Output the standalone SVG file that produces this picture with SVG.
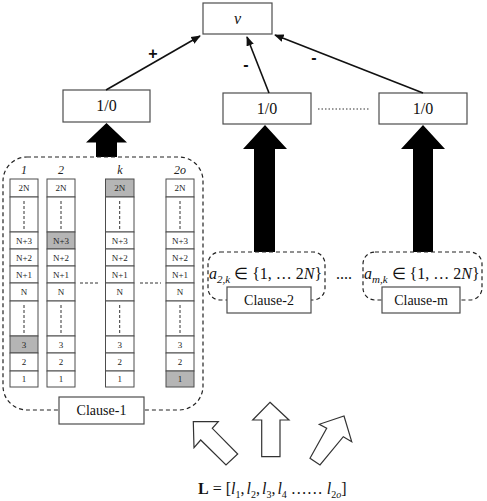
<svg xmlns="http://www.w3.org/2000/svg" width="487" height="501" viewBox="0 0 487 501">
<style>
.box{fill:#fff;stroke:#4d4d4d;stroke-width:1.2}
.dash{fill:none;stroke:#222;stroke-width:1.2;stroke-dasharray:4 3}
.cell{fill:#fff;stroke:#4d4d4d;stroke-width:1}
.sh{fill:#b5b5b5;stroke:#4d4d4d;stroke-width:1}
.ct{font-family:"Liberation Serif",serif;font-size:9px;text-anchor:middle;fill:#222}
.vd{stroke:#333;stroke-width:1;stroke-dasharray:3 2}
.m{font-family:"Liberation Serif",serif;font-size:16px;fill:#111}
.lab{font-family:"Liberation Serif",serif;font-size:14px;text-anchor:middle;fill:#111}
.sg{font-family:"Liberation Sans",sans-serif;font-size:16px;font-weight:bold;text-anchor:middle;fill:#111}
.hd{font-family:"Liberation Serif",serif;font-style:italic;font-size:12px;text-anchor:middle;fill:#222}
.ln{stroke:#111;stroke-width:1.6;fill:none}
.big{fill:#000}
.hol{fill:#fff;stroke:#333;stroke-width:1.2}
</style>
<defs>
<marker id="ah" viewBox="0 0 10 10" refX="9" refY="5" markerWidth="6" markerHeight="6" orient="auto">
<path d="M0,1 L10,5 L0,9 z" fill="#111"/>
</marker>
</defs>

<g id="node-v">
<rect class="box" x="203" y="3" width="69" height="31"/>
<text class="m" x="237.5" y="24" text-anchor="middle" font-style="italic">v</text>
</g>

<g id="node-out1">
<rect class="box" x="63" y="90" width="87" height="32"/>
<text class="m" x="106.5" y="111" text-anchor="middle">1/0</text>
</g>
<g id="node-out2">
<rect class="box" x="223" y="93" width="88" height="31"/>
<text class="m" x="267" y="114" text-anchor="middle">1/0</text>
</g>
<g id="node-outm">
<rect class="box" x="379" y="93" width="88" height="31"/>
<text class="m" x="423" y="114" text-anchor="middle">1/0</text>
</g>
<line x1="318" y1="109" x2="370" y2="109" stroke="#333" stroke-width="1.2" stroke-dasharray="1.5 2"/>

<g id="connectors">
<line class="ln" x1="106" y1="90" x2="200" y2="36" marker-end="url(#ah)"/>
<line class="ln" x1="269" y1="93" x2="247" y2="37" marker-end="url(#ah)"/>
<line class="ln" x1="423" y1="93" x2="275" y2="35" marker-end="url(#ah)"/>
<text class="sg" x="153" y="59">+</text>
<text class="sg" x="246" y="70">-</text>
<text class="sg" x="314" y="63">-</text>
<polygon class="big" points="106.5,123 127,142.5 117,142.5 117,157 96,157 96,142.5 86,142.5"/>
<polygon class="big" points="265,125 287,149 275,149 275,252 254,252 254,149 243,149"/>
<polygon class="big" points="423,125 445,149 433,149 433,252 413,252 413,149 401,149"/>
</g>

<g id="clause-1">
<rect class="dash" x="3" y="157" width="200" height="253" rx="24"/>
<text class="hd" x="24" y="174">1</text>
<text class="hd" x="61" y="174">2</text>
<text class="hd" x="120" y="174">k</text>
<text class="hd" x="180" y="174">2o</text>
<line class="vd" x1="80" y1="283" x2="100" y2="283"/>
<line class="vd" x1="140" y1="283" x2="161" y2="283"/>
<rect class="box" x="59" y="397" width="85" height="27"/>
<text class="lab" x="101.5" y="415">Clause-1</text>
</g>

<g id="col-1">
<rect class="cell" x="10" y="179" width="28" height="18"/><text class="ct" x="24" y="191">2N</text>
<rect class="cell" x="10" y="197" width="28" height="35"/><line class="vd" x1="24" y1="201" x2="24" y2="229"/>
<rect class="cell" x="10" y="232" width="28" height="17"/><text class="ct" x="24" y="243.5">N+3</text>
<rect class="cell" x="10" y="249" width="28" height="17"/><text class="ct" x="24" y="260.5">N+2</text>
<rect class="cell" x="10" y="266" width="28" height="17"/><text class="ct" x="24" y="277.5">N+1</text>
<rect class="cell" x="10" y="283" width="28" height="18"/><text class="ct" x="24" y="295">N</text>
<rect class="cell" x="10" y="301" width="28" height="35"/><line class="vd" x1="24" y1="305" x2="24" y2="333"/>
<rect class="sh" x="10" y="336" width="28" height="17"/><text class="ct" x="24" y="347.5">3</text>
<rect class="cell" x="10" y="353" width="28" height="18"/><text class="ct" x="24" y="365">2</text>
<rect class="cell" x="10" y="371" width="28" height="16"/><text class="ct" x="24" y="382">1</text>
</g>
<g id="col-2">
<rect class="cell" x="47" y="179" width="28" height="18"/><text class="ct" x="61" y="191">2N</text>
<rect class="cell" x="47" y="197" width="28" height="35"/><line class="vd" x1="61" y1="201" x2="61" y2="229"/>
<rect class="sh" x="47" y="232" width="28" height="17"/><text class="ct" x="61" y="243.5">N+3</text>
<rect class="cell" x="47" y="249" width="28" height="17"/><text class="ct" x="61" y="260.5">N+2</text>
<rect class="cell" x="47" y="266" width="28" height="17"/><text class="ct" x="61" y="277.5">N+1</text>
<rect class="cell" x="47" y="283" width="28" height="18"/><text class="ct" x="61" y="295">N</text>
<rect class="cell" x="47" y="301" width="28" height="35"/><line class="vd" x1="61" y1="305" x2="61" y2="333"/>
<rect class="cell" x="47" y="336" width="28" height="17"/><text class="ct" x="61" y="347.5">3</text>
<rect class="cell" x="47" y="353" width="28" height="18"/><text class="ct" x="61" y="365">2</text>
<rect class="cell" x="47" y="371" width="28" height="16"/><text class="ct" x="61" y="382">1</text>
</g>
<g id="col-k">
<rect class="sh" x="105.5" y="179" width="28.5" height="18"/><text class="ct" x="119.7" y="191">2N</text>
<rect class="cell" x="105.5" y="197" width="28.5" height="35"/><line class="vd" x1="119.7" y1="201" x2="119.7" y2="229"/>
<rect class="cell" x="105.5" y="232" width="28.5" height="17"/><text class="ct" x="119.7" y="243.5">N+3</text>
<rect class="cell" x="105.5" y="249" width="28.5" height="17"/><text class="ct" x="119.7" y="260.5">N+2</text>
<rect class="cell" x="105.5" y="266" width="28.5" height="17"/><text class="ct" x="119.7" y="277.5">N+1</text>
<rect class="cell" x="105.5" y="283" width="28.5" height="18"/><text class="ct" x="119.7" y="295">N</text>
<rect class="cell" x="105.5" y="301" width="28.5" height="35"/><line class="vd" x1="119.7" y1="305" x2="119.7" y2="333"/>
<rect class="cell" x="105.5" y="336" width="28.5" height="17"/><text class="ct" x="119.7" y="347.5">3</text>
<rect class="cell" x="105.5" y="353" width="28.5" height="18"/><text class="ct" x="119.7" y="365">2</text>
<rect class="cell" x="105.5" y="371" width="28.5" height="16"/><text class="ct" x="119.7" y="382">1</text>
</g>
<g id="col-2o">
<rect class="cell" x="166" y="179" width="28" height="18"/><text class="ct" x="180" y="191">2N</text>
<rect class="cell" x="166" y="197" width="28" height="35"/><line class="vd" x1="180" y1="201" x2="180" y2="229"/>
<rect class="cell" x="166" y="232" width="28" height="17"/><text class="ct" x="180" y="243.5">N+3</text>
<rect class="cell" x="166" y="249" width="28" height="17"/><text class="ct" x="180" y="260.5">N+2</text>
<rect class="cell" x="166" y="266" width="28" height="17"/><text class="ct" x="180" y="277.5">N+1</text>
<rect class="cell" x="166" y="283" width="28" height="18"/><text class="ct" x="180" y="295">N</text>
<rect class="cell" x="166" y="301" width="28" height="35"/><line class="vd" x1="180" y1="305" x2="180" y2="333"/>
<rect class="cell" x="166" y="336" width="28" height="17"/><text class="ct" x="180" y="347.5">3</text>
<rect class="cell" x="166" y="353" width="28" height="18"/><text class="ct" x="180" y="365">2</text>
<rect class="sh" x="166" y="371" width="28" height="16"/><text class="ct" x="180" y="382">1</text>
</g>

<g id="clause-2">
<rect class="dash" x="208" y="252" width="117" height="48" rx="12"/>
<text class="m" x="209" y="279"><tspan font-style="italic">a</tspan><tspan font-size="11" dy="4" font-style="italic">2,k</tspan><tspan dy="-4"> ∈ {1, … 2</tspan><tspan font-style="italic">N</tspan><tspan>}</tspan></text>
<rect class="box" x="227" y="287" width="84" height="26"/>
<text class="lab" x="269" y="305">Clause-2</text>
</g>
<text class="m" x="344" y="279" text-anchor="middle">....</text>
<g id="clause-m">
<rect class="dash" x="363" y="252" width="119" height="48" rx="12"/>
<text class="m" x="364" y="279"><tspan font-style="italic">a</tspan><tspan font-size="11" dy="4" font-style="italic">m,k</tspan><tspan dy="-4"> ∈ {1, … 2</tspan><tspan font-style="italic">N</tspan><tspan>}</tspan></text>
<rect class="box" x="382" y="287" width="78" height="26"/>
<text class="lab" x="421" y="305">Clause-m</text>
</g>

<g id="input-arrows">
<polygon class="hol" points="193.3,421.7 218.3,421.7 212.3,428.3 237.7,454 226,465 200.7,440 194,447.7"/>
<polygon class="hol" points="270,402.3 289,420 280,420 280,456.7 261.7,456.7 261.7,420 252.7,420"/>
<polygon class="hol" points="344,416 351.7,441.7 343.3,436.7 320,465 310,458.3 326.7,428.3 319.3,424.3"/>
</g>

<g id="input-L">
<text class="m" x="198" y="494" font-size="15"><tspan font-weight="bold">L</tspan><tspan> = [</tspan><tspan font-style="italic">l</tspan><tspan font-size="10" dy="4">1</tspan><tspan dy="-4">,</tspan><tspan font-style="italic" dx="2">l</tspan><tspan font-size="10" dy="4">2</tspan><tspan dy="-4">,</tspan><tspan font-style="italic" dx="2">l</tspan><tspan font-size="10" dy="4">3</tspan><tspan dy="-4">,</tspan><tspan font-style="italic" dx="2">l</tspan><tspan font-size="10" dy="4">4</tspan><tspan dy="-4"> …… </tspan><tspan font-style="italic">l</tspan><tspan font-size="10" dy="4">2</tspan><tspan font-size="10" font-style="italic">o</tspan><tspan dy="-4">]</tspan></text>
</g>
</svg>
